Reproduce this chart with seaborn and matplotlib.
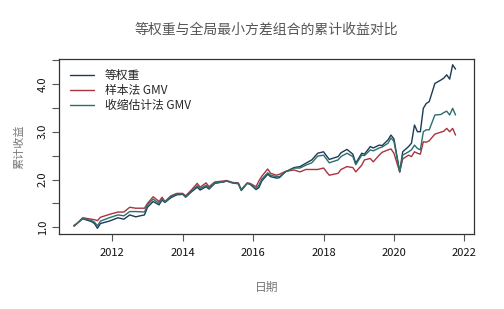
import matplotlib
matplotlib.use("Agg")
import matplotlib.pyplot as plt
import matplotlib.dates as mdates
import matplotlib.ticker as mticker
import pandas as pd
import seaborn as sns

# --------------------------------------------------------------------------- #
# Dados (valores aproximados, mensais irregulares)
# --------------------------------------------------------------------------- #
months = [
    "2010-12", "2011-01", "2011-03", "2011-06", "2011-07", "2011-08", "2011-09", "2011-12",
    "2012-03", "2012-05", "2012-07", "2012-09", "2012-12",
    "2013-01", "2013-03", "2013-05", "2013-06", "2013-07", "2013-09", "2013-11",
    "2014-01", "2014-02", "2014-04", "2014-06", "2014-07", "2014-09", "2014-10", "2014-12",
    "2015-03", "2015-04", "2015-06", "2015-08", "2015-09", "2015-11", "2015-12",
    "2016-02", "2016-03", "2016-04", "2016-06", "2016-07", "2016-09", "2016-10", "2016-12",
    "2017-03", "2017-05", "2017-07", "2017-09", "2017-11",
    "2018-01", "2018-03", "2018-06", "2018-07", "2018-09", "2018-11", "2018-12",
    "2019-02", "2019-03", "2019-05", "2019-06", "2019-08", "2019-09", "2019-11", "2019-12",
    "2020-01", "2020-03", "2020-04", "2020-06", "2020-07", "2020-08", "2020-09", "2020-10",
    "2020-11", "2020-12",
    "2021-01", "2021-03", "2021-05", "2021-06", "2021-07", "2021-08", "2021-09", "2021-10",
]

equal_weight = [
    1.04, 1.08, 1.18, 1.12, 1.08, 0.98, 1.08, 1.13,
    1.20, 1.17, 1.26, 1.22, 1.26,
    1.42, 1.54, 1.47, 1.57, 1.52, 1.62, 1.68,
    1.69, 1.63, 1.74, 1.84, 1.78, 1.85, 1.80, 1.92,
    1.95, 1.97, 1.93, 1.91, 1.77, 1.92, 1.90,
    1.79, 1.83, 1.97, 2.11, 2.06, 2.03, 2.04, 2.16,
    2.25, 2.27, 2.34, 2.41, 2.55,
    2.58, 2.42, 2.48, 2.56, 2.63, 2.53, 2.34,
    2.55, 2.53, 2.69, 2.66, 2.72, 2.71, 2.83, 2.93,
    2.85, 2.16, 2.58, 2.69, 2.76, 3.14, 3.00, 3.00,
    3.49, 3.59,
    3.63, 4.01, 4.08, 4.12, 4.19, 4.10, 4.40, 4.31,
]

sample_gmv = [
    1.02, 1.08, 1.20, 1.17, 1.16, 1.14, 1.21, 1.27,
    1.32, 1.32, 1.42, 1.40, 1.40,
    1.50, 1.64, 1.54, 1.63, 1.54, 1.66, 1.71,
    1.71, 1.66, 1.78, 1.92, 1.84, 1.93, 1.85, 1.95,
    1.97, 1.98, 1.94, 1.93, 1.79, 1.93, 1.92,
    1.85, 1.97, 2.07, 2.22, 2.13, 2.09, 2.11, 2.17,
    2.20, 2.16, 2.21, 2.21, 2.21,
    2.24, 2.09, 2.13, 2.21, 2.27, 2.25, 2.16,
    2.30, 2.41, 2.44, 2.37, 2.51, 2.57, 2.62, 2.64,
    2.55, 2.16, 2.43, 2.51, 2.48, 2.58, 2.55, 2.53,
    2.79, 2.78,
    2.81, 2.95, 2.99, 3.01, 3.07, 3.00, 3.07, 2.93,
]

shrink_gmv = [
    1.03, 1.08, 1.19, 1.14, 1.11, 1.03, 1.13, 1.20,
    1.26, 1.24, 1.33, 1.33, 1.32,
    1.47, 1.59, 1.50, 1.59, 1.53, 1.64, 1.70,
    1.70, 1.64, 1.76, 1.87, 1.81, 1.88, 1.82, 1.93,
    1.95, 1.97, 1.93, 1.92, 1.78, 1.92, 1.91,
    1.81, 1.88, 2.01, 2.14, 2.09, 2.06, 2.06, 2.16,
    2.24, 2.24, 2.30, 2.35, 2.49,
    2.51, 2.35, 2.41, 2.48, 2.55, 2.48, 2.31,
    2.51, 2.50, 2.62, 2.60, 2.66, 2.68, 2.76, 2.87,
    2.80, 2.16, 2.51, 2.58, 2.62, 2.72, 2.65, 2.62,
    3.00, 3.04,
    3.04, 3.35, 3.36, 3.40, 3.43, 3.35, 3.49, 3.35,
]

series_names = ["等权重", "样本法 GMV", "收缩估计法 GMV"]
series_colors = ["#1c3a56", "#a8343f", "#2b6e6d"]

TITLE = "等权重与全局最小方差组合的累计收益对比"
XLABEL = "日期"
YLABEL = "累计收益"


def build_frame():
    dates = pd.to_datetime(months, format="%Y-%m")
    parts = []
    for name, vals in zip(series_names, [equal_weight, sample_gmv, shrink_gmv]):
        parts.append(pd.DataFrame({"date": dates, "value": vals, "series": name}))
    return pd.concat(parts, ignore_index=True)


def main():
    df = build_frame()

    sns.set_style("white")
    plt.rcParams["font.family"] = ["Noto Sans CJK SC", "DejaVu Sans"]

    fig = plt.figure(figsize=(5.04, 3.09), dpi=100)
    ax = fig.add_axes([0.117, 0.2417, 0.823, 0.5683])

    sns.lineplot(data=df, x="date", y="value", hue="series", hue_order=series_names,
                 palette=series_colors, linewidth=1.0, ax=ax)

    ax.set_xlim(pd.Timestamp("2010-06-28"), pd.Timestamp("2022-04-08"))
    ax.set_ylim(0.854, 4.527)

    ax.xaxis.set_major_locator(mdates.YearLocator(2))
    ax.xaxis.set_major_formatter(mdates.DateFormatter("%Y"))
    ax.yaxis.set_major_locator(mticker.MultipleLocator(0.5))
    ax.yaxis.set_major_formatter(
        mticker.FuncFormatter(lambda v, _: f"{v:.1f}" if abs(v - round(v)) < 1e-6 else ""))
    for lab in ax.get_yticklabels():
        lab.set_rotation(90)
        lab.set_va("center")

    ax.tick_params(axis="both", direction="out", length=5, width=0.8, color="#555555",
                   labelsize=8, labelcolor="#111111", bottom=True, left=True)
    ax.tick_params(axis="x", pad=5)
    ax.tick_params(axis="y", pad=3)
    for sp in ax.spines.values():
        sp.set_visible(True)
        sp.set_color("#333333")
        sp.set_linewidth(0.9)

    ax.set_title(TITLE, fontsize=10, color="#555555", pad=18)
    ax.set_xlabel(XLABEL, fontsize=8.5, color="#777777", labelpad=16)
    ax.set_ylabel(YLABEL, fontsize=8, color="#777777", labelpad=10)

    leg = ax.legend(loc="upper left", frameon=False, fontsize=8.5, handlelength=2.1,
                    handletextpad=0.9, labelspacing=0.15, borderaxespad=0.5)
    for h in leg.get_lines():
        h.set_linewidth(1.0)

    fig.savefig("out.png", dpi=100)
    plt.close(fig)


if __name__ == "__main__":
    main()
